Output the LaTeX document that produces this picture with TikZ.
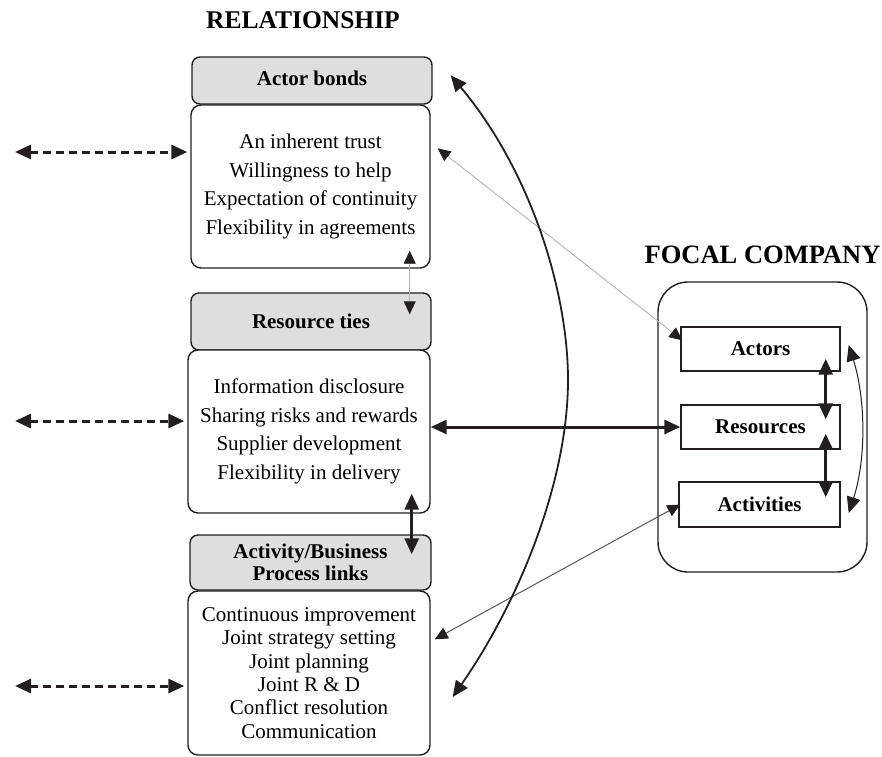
\documentclass[tikz,border=0pt]{standalone}
\usepackage{fontspec}
\setmainfont{Liberation Serif}
\usetikzlibrary{arrows.meta}
\definecolor{ink}{HTML}{231F20}
\definecolor{hdrgray}{HTML}{DEDEDE}
\definecolor{thingray}{HTML}{B4B4B4}
\begin{document}
\begin{tikzpicture}[x=1pt,y=-1pt,
  hdr/.style={draw=ink, line width=1.4pt, fill=hdrgray, rounded corners=8pt,
    font=\fontsize{21}{22}\selectfont\bfseries, align=center, inner sep=0pt},
  cbox/.style={draw=ink, line width=1.4pt, fill=white, rounded corners=10pt,
    font=\fontsize{21}{28.5}\selectfont, align=center, inner sep=0pt},
  fbox/.style={draw=ink, line width=1.4pt, fill=white,
    font=\fontsize{21}{22}\selectfont\bfseries, inner sep=0pt},
  ttl/.style={font=\fontsize{25.5}{27}\selectfont\bfseries, inner sep=0pt},
  bigtip/.style={arrows={Triangle[length=16pt,width=14pt,color=ink]-Triangle[length=16pt,width=14pt,color=ink]}},
  smalltip/.style={arrows={Triangle[length=13pt,width=12pt,color=ink]-Triangle[length=13pt,width=12pt,color=ink]}},
  thick arrow/.style={bigtip, draw=ink, line width=3pt},
  dash arrow/.style={bigtip, draw=ink, line width=3pt, dash pattern=on 8pt off 5pt, shorten >=3pt},
  gray arrow/.style={smalltip, draw=thingray, line width=0.9pt},
  dark thin arrow/.style={smalltip, draw=ink!75, line width=1pt},
]
\useasboundingbox (0,0) rectangle (882,756);

% titles
\node[ttl] (tR) at (303,20) {RELATIONSHIP};
\node[ttl, font=\fontsize{26.5}{28}\selectfont\bfseries] (tF) at (762.5,255) {FOCAL COMPANY};

% relationship column
\node[hdr, minimum width=240pt, minimum height=47pt, text depth=4pt] (h1) at (312,80.5) {Actor bonds};
\node[cbox, minimum width=239pt, minimum height=163pt] (c1) at (310.5,186.5)
  {An inherent trust\\Willingness to help\\Expectation of continuity\\Flexibility in agreements};
\node[hdr, minimum width=240pt, minimum height=57pt] (h2) at (311,321.5) {Resource ties};
\node[cbox, minimum width=242pt, minimum height=163pt] (c2) at (309,431.5)
  {Information disclosure\\Sharing risks and rewards\\Supplier development\\Flexibility in delivery};
\node[hdr, minimum width=241pt, minimum height=55pt] (h3) at (310.5,562.5) {Activity/Business\\Process links};
\node[cbox, minimum width=242pt, minimum height=164pt, font=\fontsize{21}{23.4}\selectfont] (c3) at (309,673)
  {Continuous improvement\\Joint strategy setting\\Joint planning\\Joint R \& D\\Conflict resolution\\Communication};

% focal company
\node[fbox, rounded corners=30pt, minimum width=209pt, minimum height=290pt] (fo) at (762.5,427) {};
\node[fbox, minimum width=159pt, minimum height=44pt] (act) at (760.5,349) {Actors};
\node[fbox, minimum width=159pt, minimum height=44pt] (res) at (760.5,427) {Resources};
\node[fbox, minimum width=161pt, minimum height=45pt] (acv) at (759.5,504.5) {Activities};

% dashed external arrows
\coordinate (d1) at (15,152);
\coordinate (d2) at (15,421);
\coordinate (d3) at (15,686);
\draw[dash arrow] (d1) -- (d1 -| c1.west);
\draw[dash arrow] (d2) -- (d2 -| c2.west);
\draw[dash arrow] (d3) -- (d3 -| c3.west);

% vertical arrows in relationship column
\draw[gray arrow] ([xshift=-21pt,yshift=18pt]c1.south east) -- ([xshift=-22pt,yshift=-22pt]h2.north east);
\draw[thick arrow] ([xshift=-19pt,yshift=20pt]c2.south east) -- ([xshift=-20pt,yshift=-20pt]h3.north east);

% links between relationship and focal company
\draw[thick arrow] (res.west -| c2.east) -- (res.west);
\draw[gray arrow] ([xshift=7pt,yshift=-44pt]c1.north east) -- ([xshift=2pt,yshift=-14pt]act.north west);
\draw[dark thin arrow] ([xshift=4pt,yshift=-49pt]c3.north east) -- ([xshift=2pt]acv.west);

% big curve
\draw[bigtip, draw=ink, line width=1.8pt]
  ([xshift=18pt,yshift=-19pt]h1.north east) .. controls (530,170) and (568,290) .. (568,380)
  .. controls (568,480) and (520,600) .. ([xshift=22pt,yshift=-24pt]c3.east);

% arrows inside focal company
\draw[thick arrow] ([xshift=-15pt,yshift=13pt]act.south east) -- ([xshift=-15pt,yshift=-15pt]res.north east);
\draw[thick arrow] ([xshift=-15pt,yshift=16pt]res.south east) -- ([xshift=-15pt,yshift=-16pt]acv.north east);
\draw[bigtip, draw=ink, line width=1pt]
  ([xshift=8pt,yshift=4pt]act.east) .. controls (866,400) and (866,460) .. ([xshift=8pt,yshift=-8.5pt]acv.east);
\end{tikzpicture}
\end{document}
